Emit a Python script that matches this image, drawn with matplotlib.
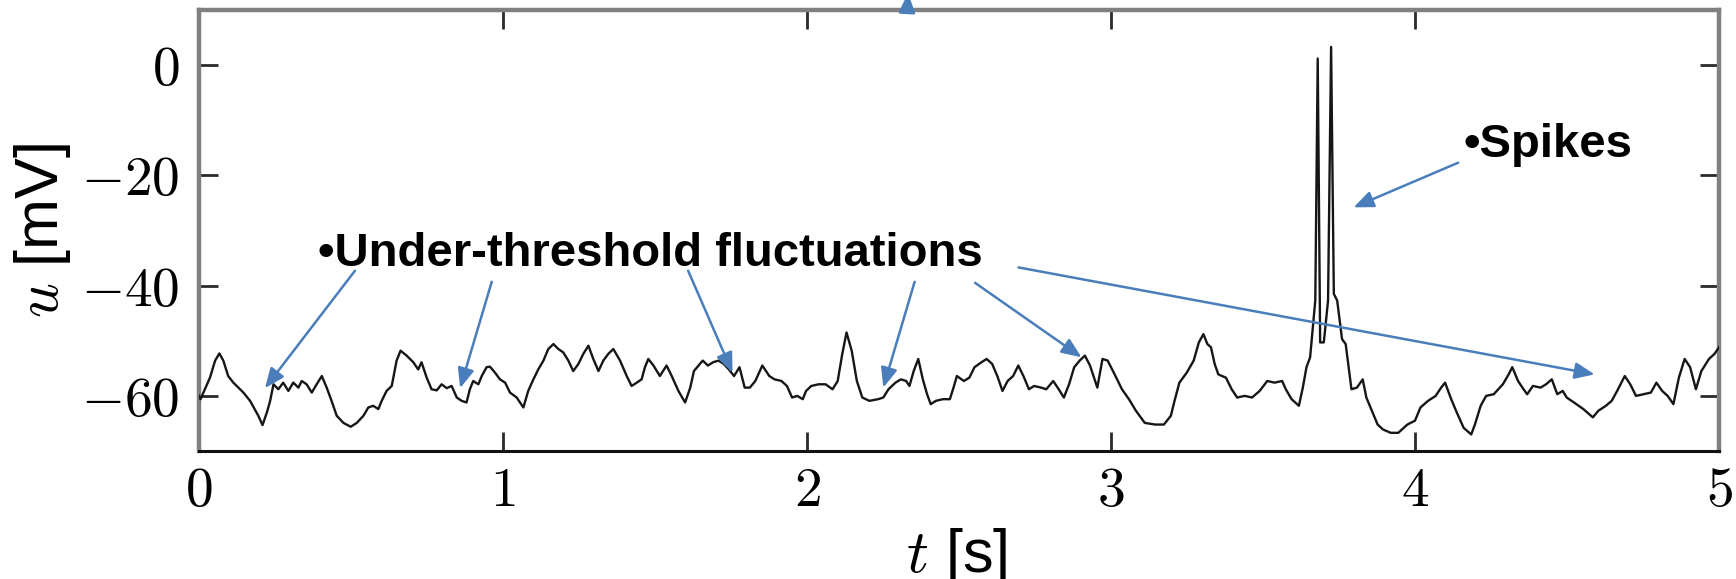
import matplotlib
matplotlib.use('Agg')
import matplotlib.pyplot as plt

plt.rcParams['font.family'] = ['Liberation Sans', 'DejaVu Sans']
plt.rcParams['mathtext.fontset'] = 'cm'

# ---- data: membrane potential trace ----
t = [0.000, 0.005, 0.036, 0.053, 0.067, 0.080, 0.096, 0.113, 0.146, 0.168,
     0.195, 0.209, 0.225, 0.234, 0.245, 0.261, 0.277, 0.294, 0.310, 0.327,
     0.338, 0.354, 0.371, 0.387, 0.404, 0.420, 0.436, 0.453, 0.475, 0.499,
     0.519, 0.541, 0.557, 0.573, 0.590, 0.601, 0.617, 0.634, 0.650, 0.663,
     0.683, 0.705, 0.721, 0.732, 0.749, 0.765, 0.782, 0.798, 0.815, 0.831,
     0.848, 0.864, 0.880, 0.891, 0.902, 0.919, 0.930, 0.946, 0.957, 0.974,
     0.990, 1.007, 1.023, 1.045, 1.067, 1.083, 1.100, 1.116, 1.133, 1.149,
     1.166, 1.182, 1.198, 1.215, 1.231, 1.248, 1.264, 1.281, 1.297, 1.314,
     1.330, 1.346, 1.363, 1.385, 1.407, 1.423, 1.440, 1.456, 1.467, 1.478,
     1.495, 1.516, 1.538, 1.555, 1.577,
     1.599, 1.616, 1.628, 1.657, 1.674, 1.691, 1.709, 1.726, 1.743, 1.760,
     1.778, 1.795, 1.812, 1.830, 1.853, 1.876, 1.893, 1.916, 1.934, 1.951,
     1.968, 1.986, 1.997, 2.014, 2.038, 2.061, 2.084, 2.101, 2.116, 2.130,
     2.147, 2.164, 2.182, 2.205, 2.234, 2.251, 2.268, 2.291, 2.309, 2.326,
     2.337, 2.351, 2.366, 2.381, 2.395, 2.407, 2.424, 2.447, 2.470, 2.482,
     2.493, 2.516, 2.534, 2.551, 2.574, 2.591, 2.609, 2.626, 2.643, 2.660,
     2.678, 2.695, 2.712, 2.730, 2.747, 2.770, 2.787, 2.810, 2.828, 2.845,
     2.862, 2.879, 2.897, 2.914, 2.931, 2.955, 2.972, 2.989, 3.012, 3.036,
     3.059, 3.082, 3.111, 3.145, 3.174, 3.197, 3.209, 3.225, 3.249, 3.272,
     3.289,
     3.304, 3.317, 3.329, 3.341, 3.353, 3.378, 3.397, 3.415, 3.440, 3.464,
     3.489, 3.514, 3.538, 3.563, 3.575, 3.594, 3.618, 3.631, 3.643, 3.655,
     3.667, 3.672, 3.680, 3.688, 3.700, 3.714, 3.724, 3.733, 3.744, 3.760,
     3.772, 3.791, 3.809, 3.828, 3.840, 3.858, 3.877, 3.895, 3.920, 3.945,
     3.975, 4.000, 4.018, 4.043, 4.068, 4.086, 4.099, 4.117, 4.135, 4.160,
     4.185, 4.197, 4.216, 4.234, 4.259, 4.289, 4.308, 4.320, 4.339, 4.357,
     4.369, 4.388, 4.413, 4.431, 4.450, 4.468, 4.486, 4.499, 4.523, 4.554,
     4.585, 4.603, 4.628, 4.647, 4.665, 4.690, 4.708, 4.727, 4.751, 4.776,
     4.794, 4.813, 4.831, 4.850, 4.868, 4.887, 4.905, 4.924, 4.942, 4.967,
     4.985, 5.000]

u = [-60.0, -60.6, -56.7, -53.6, -52.3, -53.6, -56.4, -57.6, -59.4, -60.9,
     -63.6, -65.3, -62.7, -60.9, -57.9, -58.8, -57.6, -59.1, -57.6, -58.5,
     -57.3, -57.9, -59.4, -57.9, -56.4, -58.5, -60.9, -63.6, -64.9, -65.6,
     -64.9, -63.6, -62.1, -61.8, -62.4, -60.9, -59.1, -58.2, -53.6, -51.8,
     -52.7, -53.9, -55.2, -53.9, -56.7, -58.8, -59.0, -57.9, -58.6, -58.2,
     -60.3, -60.9, -61.2, -58.8, -57.3, -57.9, -56.4, -54.8, -54.7, -55.8,
     -57.0, -57.6, -59.4, -60.3, -62.1, -59.1, -57.0, -55.2, -53.6, -51.5,
     -50.6, -51.5, -52.1, -53.6, -55.5, -54.2, -52.4, -50.9, -53.3, -55.5,
     -53.6, -52.4, -51.5, -53.6, -56.4, -58.2, -57.6, -57.0, -54.8, -53.3,
     -54.5, -56.4, -54.5, -56.4, -59.1,
     -61.2, -58.5, -55.5, -53.6, -54.5, -53.9, -53.6, -54.2, -55.2, -56.4,
     -54.8, -58.5, -58.5, -57.3, -54.5, -56.4, -57.0, -57.3, -58.2, -60.3,
     -60.0, -60.6, -59.1, -58.2, -57.9, -57.9, -58.8, -57.3, -52.4, -48.5,
     -51.8, -57.3, -60.3, -60.9, -60.6, -60.3, -58.8, -57.6, -57.0, -57.3,
     -58.2, -55.5, -53.3, -57.0, -59.7, -61.5, -60.9, -60.6, -60.6, -58.5,
     -56.4, -57.3, -56.7, -54.8, -53.9, -53.3, -54.2, -56.4, -59.1, -57.3,
     -56.4, -54.5, -56.4, -58.8, -58.2, -58.5, -58.8, -57.3, -58.8, -60.3,
     -57.9, -54.8, -53.6, -52.7, -54.5, -58.5, -53.3, -53.6, -56.1, -58.8,
     -60.6, -62.7, -64.9, -65.2, -65.2, -63.6, -60.9, -57.6, -55.8, -53.6,
     -50.3,
     -48.8, -50.6, -51.2, -54.2, -56.1, -56.7, -58.8, -60.3, -60.0, -60.3,
     -59.1, -57.3, -57.6, -57.3, -58.8, -60.6, -61.8, -58.5, -54.8, -53.0,
     -45.8, -42.7, 1.2, -50.3, -50.3, -42.7, 3.3, -41.5, -42.7, -49.7,
     -50.6, -58.8, -58.5, -57.0, -60.3, -62.7, -65.2, -66.1, -66.7, -66.7,
     -65.2, -64.5, -62.1, -60.9, -60.0, -58.5, -57.6, -60.3, -62.7, -65.8,
     -67.0, -65.2, -61.8, -60.0, -59.7, -57.9, -56.1, -54.8, -57.3, -58.8,
     -59.7, -58.2, -58.5, -57.9, -57.0, -59.7, -59.1, -60.3, -61.2, -62.4,
     -63.9, -62.7, -61.8, -60.9, -59.1, -56.4, -57.9, -60.0, -59.7, -59.4,
     -57.6, -59.1, -60.0, -61.5, -56.7, -53.3, -54.8, -58.8, -55.5, -53.3,
     -52.4, -51.2]

xticks = [0, 1, 2, 3, 4, 5]
xtick_labels = ['$0$', '$1$', '$2$', '$3$', '$4$', '$5$']
yticks = [0, -20, -40, -60]
ytick_labels = ['$0$', '$-20$', '$-40$', '$-60$']

label_fluct = '\u2022Under-threshold fluctuations'
label_spikes = '\u2022Spikes'
# annotation anchors (data coords)
fluct_text_pos = (0.39, -36.5)
spikes_text_pos = (4.16, -16.7)
fluct_arrow_starts = [(0.513, -37.3), (0.963, -39.3), (1.609, -37.3),
                      (2.354, -39.3), (2.553, -39.5), (2.696, -36.7)]
fluct_arrow_tips = [(0.217, -58.6), (0.859, -58.6), (1.755, -55.8),
                    (2.251, -58.5), (2.903, -53.0), (4.591, -56.1)]
spike_arrow_start = (4.142, -17.7)
spike_arrow_tip = (3.798, -25.8)

BLUE = '#4a7ebb'
GRAY = '#808080'

fig = plt.figure(figsize=(17.36, 5.79), dpi=100)
ax = fig.add_axes([199 / 1736, 128 / 579, 1520 / 1736, 441 / 579])

ax.plot(t, u, color='#161616', lw=1.7, zorder=3)
ax.set_xlim(0, 5)
ax.set_ylim(-70, 10)

ax.set_xticks(xticks, labels=xtick_labels)
ax.set_yticks(yticks, labels=ytick_labels)

for side in ['top', 'left', 'right']:
    ax.spines[side].set_color(GRAY)
    ax.spines[side].set_linewidth(3.2)
ax.spines['bottom'].set_color('#111111')
ax.spines['bottom'].set_linewidth(2.2)

ax.tick_params(direction='in', length=14, width=2, color='#2a2a2a',
               top=True, right=True, labelsize=40)
ax.tick_params(axis='x', pad=11)
ax.tick_params(axis='y', pad=14)

ax.set_xlabel('$t$ [s]', fontsize=44)
ax.xaxis.set_label_coords(0.4987, -0.2744)
ax.xaxis.label.set_va('baseline')
ax.set_ylabel('$u$ [mV]', fontsize=44)
ax.yaxis.set_label_coords(-0.0925, 0.5)
ax.yaxis.label.set_va('baseline')

arrowprops = dict(arrowstyle='-|>,head_length=0.6,head_width=0.25',
                  color=BLUE, lw=1.8, mutation_scale=20,
                  shrinkA=0, shrinkB=0)

ax.text(*fluct_text_pos, label_fluct, fontsize=34, fontweight='bold',
        color='black', ha='left', va='baseline', zorder=5)
ax.text(*spikes_text_pos, label_spikes, fontsize=34, fontweight='bold',
        color='black', ha='left', va='baseline', zorder=5)

for s, e in zip(fluct_arrow_starts, fluct_arrow_tips):
    ax.annotate('', xy=e, xytext=s, arrowprops=arrowprops, zorder=4)
ax.annotate('', xy=spike_arrow_tip, xytext=spike_arrow_start,
            arrowprops=arrowprops, zorder=4)

# arrow head leaving the top of the picture
ax.annotate('', xy=(908, 586), xytext=(907, 567), xycoords='figure pixels',
            textcoords='figure pixels', arrowprops=arrowprops,
            annotation_clip=False, zorder=6)

fig.savefig('out.png', dpi=100)
